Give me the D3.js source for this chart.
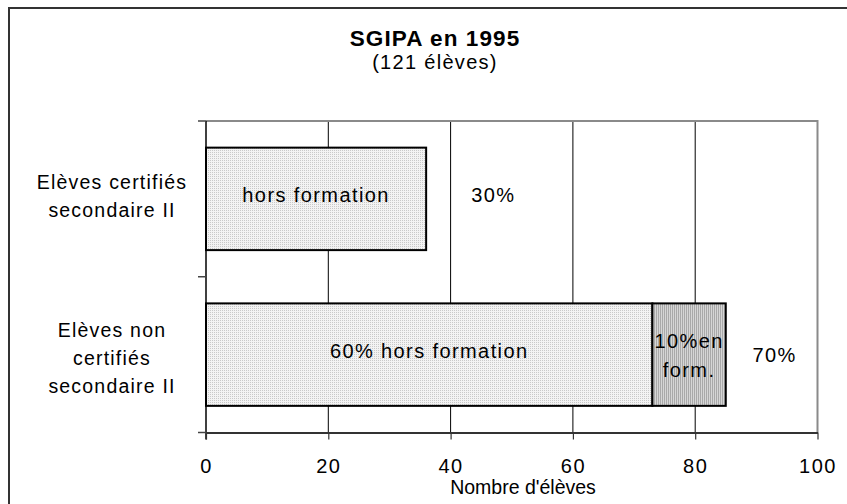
<!DOCTYPE html>
<html><head><meta charset="utf-8">
<script src="https://cdn.jsdelivr.net/npm/d3@7"></script>
<style>body{margin:0;background:#fff}svg{display:block}text{font-family:"Liberation Sans",Arial,Helvetica,sans-serif;fill:#000}</style>
</head><body><svg id="c" width="847" height="504"></svg>
<script>
const categories = [["Elèves certifiés","secondaire II"],["Elèves non","certifiés","secondaire II"]];
const horsFormation = [36, 73];
const enFormation = [0, 12];
const horsLabels = [["hors formation"],["60% hors formation"]];
const enLabels = [[],["10%en","form."]];
const totalLabels = ["30%","70%"];
const totalLabelPos = [47, 93];
const xTicks = [0,20,40,60,80,100];
const title = "SGIPA en 1995";
const subtitle = "(121 élèves)";
const xTitle = "Nombre d'élèves";

const svg = d3.select("#c");
const L = 206, R = 817.5, T = 121, B = 432.5;

const defs = svg.append("defs");
const p1 = defs.append("pattern").attr("id","pA").attr("width",2).attr("height",2).attr("patternUnits","userSpaceOnUse");
p1.append("rect").attr("width",2).attr("height",2).attr("fill","#f3f3f3");
p1.append("rect").attr("width",1).attr("height",1).attr("fill","#c9c9c9");
const p2 = defs.append("pattern").attr("id","pB").attr("width",2).attr("height",2).attr("patternUnits","userSpaceOnUse");
p2.append("rect").attr("width",2).attr("height",2).attr("fill","#d6d6d6");
p2.append("rect").attr("width",1).attr("height",2).attr("fill","#a9a9a9");

// outer border
svg.append("rect").attr("x",9).attr("y",8).attr("width",1000).attr("height",600)
  .attr("fill","none").attr("stroke","#333").attr("stroke-width",2);

const x = d3.scaleLinear().domain([0,100]).range([L,R]);
const y = d3.scaleBand().domain(d3.range(categories.length)).range([T,B]).paddingInner(0.342).paddingOuter(0.171);

// title
svg.append("text").attr("x",435).attr("y",46).attr("text-anchor","middle")
  .attr("font-size",22.5).attr("font-weight","bold").attr("letter-spacing",1.1).text(title);
svg.append("text").attr("x",435).attr("y",69).attr("text-anchor","middle")
  .attr("font-size",20).attr("letter-spacing",1.3).text(subtitle);

// gridlines
svg.append("g").selectAll("line").data(xTicks.filter(d=>d>0 && d<100)).join("line")
  .attr("x1",d=>x(d)).attr("x2",d=>x(d)).attr("y1",T).attr("y2",B)
  .attr("stroke","#000").attr("stroke-width",1);
// plot top/right border
svg.append("path").attr("d",`M${L},${T}H${x(100)}V${B}`).attr("fill","none")
  .attr("stroke","#8a8a8a").attr("stroke-width",2);

// bars
const bars = svg.append("g");
bars.selectAll("rect.h").data(horsFormation).join("rect").attr("class","h")
  .attr("x",x(0)).attr("y",(d,i)=>y(i)).attr("width",d=>x(d)-x(0)).attr("height",y.bandwidth())
  .attr("fill","url(#pA)").attr("stroke","#000").attr("stroke-width",2);
bars.selectAll("rect.e").data(enFormation.map((v,i)=>({v,i})).filter(d=>d.v>0)).join("rect").attr("class","e")
  .attr("x",d=>x(horsFormation[d.i])).attr("y",d=>y(d.i)).attr("width",d=>x(horsFormation[d.i]+d.v)-x(horsFormation[d.i]))
  .attr("height",y.bandwidth()).attr("fill","url(#pB)").attr("stroke","#000").attr("stroke-width",2);

// labels inside bars
function multi(g, lines, cx, cy, lh){
  const t = g.append("text").attr("text-anchor","middle").attr("font-size",20).attr("letter-spacing",1.4);
  const n = lines.length;
  lines.forEach((s,k)=>{
    t.append("tspan").attr("x",cx).attr("y",cy + (k-(n-1)/2)*lh).attr("dy","0.35em").text(s);
  });
  return t;
}
const lg = svg.append("g");
horsLabels.forEach((lines,i)=>{
  multi(lg, lines, (x(0)+x(horsFormation[i]))/2, y(i)+y.bandwidth()/2-4, 27);
});
enLabels.forEach((lines,i)=>{
  if(!lines.length) return;
  multi(lg, lines, (x(horsFormation[i])+x(horsFormation[i]+enFormation[i]))/2, y(i)+y.bandwidth()/2+1, 29);
});
totalLabels.forEach((s,i)=>{
  multi(lg, [s], x(totalLabelPos[i]), y(i)+y.bandwidth()/2 + (i===0?-4:0), 27);
});

// category labels
categories.forEach((lines,i)=>{
  const t = svg.append("text").attr("text-anchor","middle").attr("font-size",19.5).attr("letter-spacing",1.2);
  const n = lines.length, lh = 28, cy = y(i)+y.bandwidth()/2 + (i===0?-3:4);
  lines.forEach((s,k)=>{
    t.append("tspan").attr("x",112).attr("y",cy+(k-(n-1)/2)*lh).attr("dy","0.35em").text(s);
  });
});

// y axis line and boundary ticks
svg.append("line").attr("x1",L).attr("x2",L).attr("y1",T).attr("y2",B+7).attr("stroke","#000").attr("stroke-width",1.5);
svg.append("g").selectAll("line").data(d3.range(categories.length+1)).join("line")
  .attr("x1",L-8).attr("x2",L).attr("y1",k=>y.range()[0]+k*y.step()).attr("y2",k=>y.range()[0]+k*y.step())
  .attr("stroke","#444").attr("stroke-width",1.5);

// x axis
const xa = svg.append("g").attr("transform",`translate(0,${B})`)
  .call(d3.axisBottom(x).tickValues(xTicks).tickSize(7).tickSizeOuter(0));
xa.select(".domain").attr("stroke","#333").attr("stroke-width",2);
xa.selectAll(".tick line").attr("stroke","#333").attr("stroke-width",1.2);
xa.selectAll(".tick text").attr("y",40.5).attr("dy",0).attr("font-size",20).attr("letter-spacing",1.5)
  .attr("font-family",null).attr("fill","#000");
xa.attr("font-family",null).attr("font-size",null);

svg.append("text").attr("x",523).attr("y",494).attr("text-anchor","middle").attr("font-size",19.5).text(xTitle);
</script></body></html>
